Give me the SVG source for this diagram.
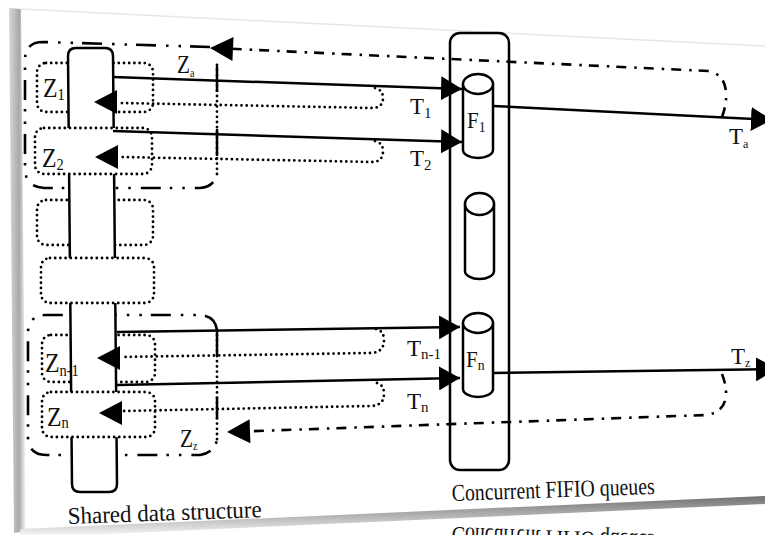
<svg xmlns="http://www.w3.org/2000/svg" width="765" height="535" viewBox="0 0 765 535">
<defs>
<style>
.ln{fill:none;stroke:#000;stroke-width:2.5}
.dot{fill:none;stroke:#000;stroke-width:2.8;stroke-dasharray:0 5.2;stroke-linecap:round}
.dd{fill:none;stroke:#000;stroke-width:2.6;stroke-dasharray:10 7 2.5 8}
.rg{fill:none;stroke:#000;stroke-width:2.6;stroke-dasharray:20 9 2.5 10 2.5 10}
.bx{fill:none;stroke:#000;stroke-width:2.8;stroke-dasharray:0 5.2;stroke-linecap:round}
.bxf{fill:#fff;stroke:#000;stroke-width:2.8;stroke-dasharray:0 5.2;stroke-linecap:round}
.sh{fill:#fff;stroke:#000;stroke-width:2.5}
.ah{fill:#000}
text{font-family:"Liberation Serif","Times New Roman",serif;fill:#111}
.z{font-size:28px}
.zs{font-size:17px}
.t{font-size:23px}
.ts{font-size:15px}
.ss{font-size:12px}
.cap{font-size:24px}
</style>
<marker id="ar" markerUnits="userSpaceOnUse" markerWidth="22" markerHeight="24" refX="21" refY="12" orient="auto"><path d="M0,0 L21,12 L0,24 Z" fill="#000"/></marker>
<path id="tri" d="M0,0 L-23,-12 L-23,12 Z"/>
<linearGradient id="lg" x1="0" x2="1" y1="0" y2="0"><stop offset="0" stop-color="#d8d8d8"/><stop offset="0.6" stop-color="#a8a8a8"/><stop offset="1" stop-color="#fff"/></linearGradient>
<linearGradient id="bg" x1="0" x2="0" y1="0" y2="1"><stop offset="0" stop-color="#707070"/><stop offset="1" stop-color="#fff"/></linearGradient>
</defs>

<rect width="765" height="535" fill="#fff"/>
<g id="page">
<line x1="21" y1="9" x2="765" y2="46" stroke="#e6e6e6" stroke-width="1.5"/>
<polygon points="9,8 21,9 26,531 14,533" fill="url(#lg)"/>
<polygon points="20,529 765,496 765,504 20,538" fill="url(#bg)"/>
<text class="cap" fill="#e2e2e2" transform="matrix(1,0,0,-1,0,1028) translate(452,501) rotate(-2)" textLength="203" lengthAdjust="spacingAndGlyphs">Concurrent FIFIO queues</text>
</g>

<g id="regions">
<path class="dd" d="M722,117 C729,98 729,74 708,71 L214,48"/>
<path class="rg" d="M210,47 L43,42 Q25,42 25,60 L25,168 Q25,187 44,188 L200,188 Q214,187 217,174"/>
<path class="dot" d="M217,174 L217,62"/>
<path class="ln" d="M217,66 L217,92 M217,129 L217,156"/>
<path class="dd" d="M722,374 C729,392 729,412 706,415 L230,432"/>
<path class="rg" d="M217,330 Q215,316 200,315 L45,315 Q28,316 28,333 L28,438 Q29,455 46,455 L200,455 Q214,453 217,440"/>
<path class="dot" d="M217,330 L217,440"/>
<path class="ln" d="M217,330 L217,355 M217,397 L217,419"/>
<use href="#tri" class="ah" transform="translate(210,48) rotate(182.75)"/>
<use href="#tri" class="ah" transform="translate(227,432) rotate(178)"/>
<text class="z" transform="translate(177,73) scale(0.85,1)" style="font-size:25px">Z<tspan class="ss" dy="4">a</tspan></text>
<text class="z" transform="translate(180,447) scale(0.85,1)" style="font-size:25px">Z<tspan class="ss" dy="3">z</tspan></text>
</g>

<g id="z1"><rect class="bx" x="37" y="63" width="116" height="49" rx="9"/></g>
<g id="z3"><rect class="bx" x="37" y="200" width="116" height="45" rx="9"/></g>
<g id="zn1"><rect class="bx" x="42" y="335" width="113" height="47" rx="9"/></g>

<g id="shared">
<path class="sh" d="M76,48 L105,48 Q113,48 113,56 L117,484 Q117,492 109,492 L80,492 Q72,492 72,484 L68,56 Q68,48 76,48 Z"/>
</g>

<g id="z2"><rect class="bxf" x="35" y="128" width="117" height="46" rx="9"/></g>
<g id="z4"><rect class="bxf" x="41" y="258" width="113" height="45" rx="9"/></g>
<g id="zn"><rect class="bxf" x="42" y="392" width="113" height="45" rx="9"/></g>

<g id="zlabels">
<text class="z" transform="translate(43,97) scale(0.85,1)">Z<tspan class="zs" dy="3">1</tspan></text>
<text class="z" transform="translate(42,167) scale(0.85,1)">Z<tspan class="zs" dy="3">2</tspan></text>
<text class="z" transform="translate(45,372) scale(0.85,1)">Z<tspan class="zs" dy="4">n-1</tspan></text>
<text class="z" transform="translate(47,426) scale(0.85,1)">Z<tspan class="zs" dy="2">n</tspan></text>
</g>

<g id="queues">
<rect class="ln" x="450" y="33" width="59" height="437" rx="10"/>
</g>
<g id="f1">
<path class="sh" d="M463,84 L463,150 A15,8 0 0 0 493,150 L493,84"/>
<ellipse class="sh" cx="478" cy="84" rx="15" ry="10"/>
<text class="t" transform="translate(467,128) scale(0.92,1)">F<tspan class="ts" dy="4">1</tspan></text>
</g>
<g id="fmid">
<path class="sh" d="M465,204 L465,271 A14.5,8 0 0 0 494,271 L494,204"/>
<ellipse class="sh" cx="479.5" cy="204" rx="14.5" ry="11"/>
</g>
<g id="fn">
<path class="sh" d="M463,323 L463,389 A15,8 0 0 0 493,389 L493,323"/>
<ellipse class="sh" cx="478" cy="323" rx="15" ry="10"/>
<text class="t" transform="translate(466,367) scale(0.92,1)">F<tspan class="ts" dy="3">n</tspan></text>
</g>

<g id="connectors">
<path class="ln" d="M113,77 L462,89" marker-end="url(#ar)"/>
<path class="ln" d="M113,131 L462,142" marker-end="url(#ar)"/>
<path class="ln" d="M117,332 L460,327" marker-end="url(#ar)"/>
<path class="ln" d="M117,385 L460,378" marker-end="url(#ar)"/>
<path class="ln" d="M493,106 L772,120" marker-end="url(#ar)"/>
<path class="ln" d="M493,373 L777,369" marker-end="url(#ar)"/>
<path class="dot" d="M375,88 Q383,90 383,98 Q383,108 372,108 L120,103"/>
<path class="dot" d="M375,141 Q383,143 383,151 Q383,162 372,162 L120,157"/>
<path class="dot" d="M376,329 Q384,331 384,340 Q384,353 370,353 L122,357"/>
<path class="dot" d="M377,383 Q384,385 384,394 Q384,406 370,406 L124,411"/>
<use href="#tri" class="ah" transform="translate(94,102) rotate(180)"/>
<use href="#tri" class="ah" transform="translate(95,157) rotate(180)"/>
<use href="#tri" class="ah" transform="translate(97,358) rotate(180)"/>
<use href="#tri" class="ah" transform="translate(99,413) rotate(180)"/>
</g>

<g id="tlabels">
<text class="t" transform="translate(410,114)">T<tspan class="ts" dy="4">1</tspan></text>
<text class="t" transform="translate(410,166)">T<tspan class="ts" dy="4">2</tspan></text>
<text class="t" transform="translate(407,356)">T<tspan class="ts" dy="3">n-1</tspan></text>
<text class="t" transform="translate(407,409)">T<tspan class="ts" dy="3">n</tspan></text>
<text class="t" transform="translate(729,144)">T<tspan class="ss" dy="4">a</tspan></text>
<text class="t" transform="translate(731,364)">T<tspan class="ss" dy="3">z</tspan></text>
</g>

<g id="captions">
<text class="cap" transform="translate(68,524) rotate(-2)" textLength="194" lengthAdjust="spacingAndGlyphs">Shared data structure</text>
<text class="cap" transform="translate(452,501) rotate(-2)" textLength="203" lengthAdjust="spacingAndGlyphs">Concurrent FIFIO queues</text>
</g>
</svg>
